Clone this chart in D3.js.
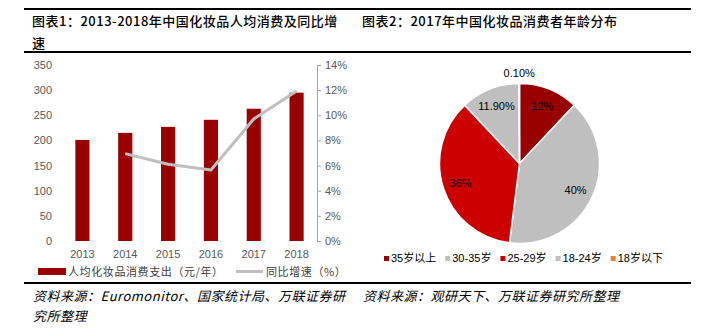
<!DOCTYPE html>
<html>
<head>
<meta charset="utf-8">
<script src="https://cdn.jsdelivr.net/npm/d3@7"></script>
<style>
  html, body { margin: 0; padding: 0; background: #fff; }
  svg { display: block; }
</style>
</head>
<body>
<svg id="chart" width="714" height="336"></svg>
<script>
// Figure 1: per-capita cosmetics spending and YoY growth
const years = ["2013", "2014", "2015", "2016", "2017", "2018"];
const spending = [201, 215, 227, 241, 263, 295];              // 元/年
const growth = [null, 6.95, 6.1, 5.65, 9.7, 11.93];             // %
const leftTicks = [0, 50, 100, 150, 200, 250, 300, 350];
const rightTicks = [0, 2, 4, 6, 8, 10, 12, 14];
const barLegend = "人均化妆品消费支出（元/年）";
const lineLegend = "同比增速（%）";

// Figure 2: 2017 consumer age distribution
const ageGroups = ["35岁以上", "30-35岁", "25-29岁", "18-24岁", "18岁以下"];
const ageShares = [12, 40, 36, 11.9, 0.1];
const ageLabels = ["12%", "40%", "36%", "11.90%", "0.10%"];
const ageColors = ["#990000", "#bfbfbf", "#cc0000", "#bfbfbf", "#ed7d31"];

const titles = [["图表1：2013-2018年中国化妆品人均消费及同比增", "速"], ["图表2：2017年中国化妆品消费者年龄分布"]];
const sources = [["资料来源：Euromonitor、国家统计局、万联证券研", "究所整理"], ["资料来源：观研天下、万联证券研究所整理"]];

const svg = d3.select("#chart");
const cjk = "'Noto Sans CJK SC', 'Liberation Sans', sans-serif";
const latin = "'Liberation Sans', 'Noto Sans CJK SC', sans-serif";

// Header / footer rules
[9, 52, 283].forEach(y => {
  svg.append("line").attr("x1", 24).attr("x2", 691).attr("y1", y).attr("y2", y)
    .attr("stroke", "#000").attr("stroke-width", 2);
});

// Titles
[[32, titles[0], 0.5], [362, titles[1], 0.5]].forEach(([x, lines, ls]) => {
  lines.forEach((t, i) => {
    svg.append("text").attr("x", x).attr("y", 21 + i * 22).attr("dy", "0.35em")
      .attr("font-family", cjk).attr("font-size", 13).attr("font-weight", 500)
      .attr("letter-spacing", ls).attr("fill", "#000").text(t);
  });
});

// Sources
[[33, sources[0]], [363, sources[1]]].forEach(([x, lines]) => {
  lines.forEach((t, i) => {
    svg.append("text").attr("x", x).attr("y", 296 + i * 20).attr("dy", "0.35em")
      .attr("font-family", cjk).attr("font-size", 13).attr("font-style", "italic")
      .attr("letter-spacing", 0.5).attr("fill", "#000").text(t);
  });
});

// ---- Bar + line combo ----
const x = d3.scaleBand().domain(years).range([61, 318]).paddingInner(0.67).paddingOuter(0.335);
const yL = d3.scaleLinear().domain([0, 350]).range([241, 65]);
const yR = d3.scaleLinear().domain([0, 14]).range([241, 65]);

const leftAxis = svg.append("g").attr("transform", "translate(61,0)")
  .call(d3.axisLeft(yL).tickValues(leftTicks).tickSize(0).tickPadding(9));
leftAxis.select(".domain").remove();

const rightAxis = svg.append("g").attr("transform", "translate(317,0)")
  .call(d3.axisRight(yR).tickValues(rightTicks).tickFormat(d => d + "%").tickSizeOuter(4).tickSizeInner(4).tickPadding(4));
rightAxis.select(".domain").attr("stroke", "#a6a6a6");
rightAxis.selectAll(".tick line").attr("stroke", "#a6a6a6");

const bottomAxis = svg.append("g").attr("transform", "translate(0,241)")
  .call(d3.axisBottom(x).tickSize(0).tickPadding(9));
bottomAxis.select(".domain").remove();

[leftAxis, rightAxis, bottomAxis].forEach(g => {
  g.selectAll("text").attr("font-family", latin).attr("font-size", 11).attr("fill", "#595959");
});

svg.append("g").selectAll("rect").data(spending).join("rect")
  .attr("x", (d, i) => x(years[i]))
  .attr("width", x.bandwidth())
  .attr("y", d => yL(d))
  .attr("height", d => yL(0) - yL(d))
  .attr("fill", "#990000");

const line = d3.line()
  .defined(d => d.v != null)
  .x(d => x(d.year) + x.bandwidth() / 2)
  .y(d => yR(d.v));
svg.append("path")
  .datum(years.map((year, i) => ({ year, v: growth[i] })))
  .attr("d", line).attr("fill", "none")
  .attr("stroke", "#bfbfbf").attr("stroke-width", 3).attr("stroke-linejoin", "round");

// Combo legend
svg.append("rect").attr("x", 38).attr("y", 268).attr("width", 28).attr("height", 7).attr("fill", "#990000");
svg.append("text").attr("x", 68).attr("y", 272).attr("dy", "0.35em")
  .attr("font-family", cjk).attr("font-size", 11).attr("letter-spacing", 0.6).attr("fill", "#404040").text(barLegend);
svg.append("line").attr("x1", 236).attr("x2", 263).attr("y1", 271.5).attr("y2", 271.5)
  .attr("stroke", "#bfbfbf").attr("stroke-width", 3);
svg.append("text").attr("x", 266).attr("y", 272).attr("dy", "0.35em")
  .attr("font-family", cjk).attr("font-size", 11).attr("letter-spacing", 0.6).attr("fill", "#404040").text(lineLegend);

// ---- Pie ----
const cx = 519.5, cy = 163.5, R = 80;
const pie = d3.pie().sort(null).value(d => d);
const arcs = pie(ageShares);
const arc = d3.arc().innerRadius(0).outerRadius(R);
const pg = svg.append("g").attr("transform", `translate(${cx},${cy})`);
pg.selectAll("path").data(arcs).join("path")
  .attr("d", arc)
  .attr("fill", (d, i) => ageColors[i])
  .attr("stroke", "#fff").attr("stroke-width", 1.5);

const labelArc = d3.arc().innerRadius(62).outerRadius(62);
const outerLabelArc = d3.arc().innerRadius(90).outerRadius(90);
pg.selectAll("text").data(arcs).join("text")
  .attr("transform", (d, i) => `translate(${(ageShares[i] < 1 ? outerLabelArc : labelArc).centroid(d)})`)
  .attr("text-anchor", "middle").attr("dy", "0.35em")
  .attr("font-family", latin).attr("font-size", 11).attr("fill", "#000")
  .text((d, i) => ageLabels[i]);

// Pie legend
let lx = 384;
ageGroups.forEach((g, i) => {
  svg.append("rect").attr("x", lx).attr("y", 256).attr("width", 5).attr("height", 5).attr("fill", ageColors[i]);
  const t = svg.append("text").attr("x", lx + 7).attr("y", 258.5).attr("dy", "0.35em")
    .attr("font-family", latin).attr("font-size", 11).attr("fill", "#000").text(g);
  lx += 7 + t.node().getComputedTextLength() + 9;
});
</script>
</body>
</html>
